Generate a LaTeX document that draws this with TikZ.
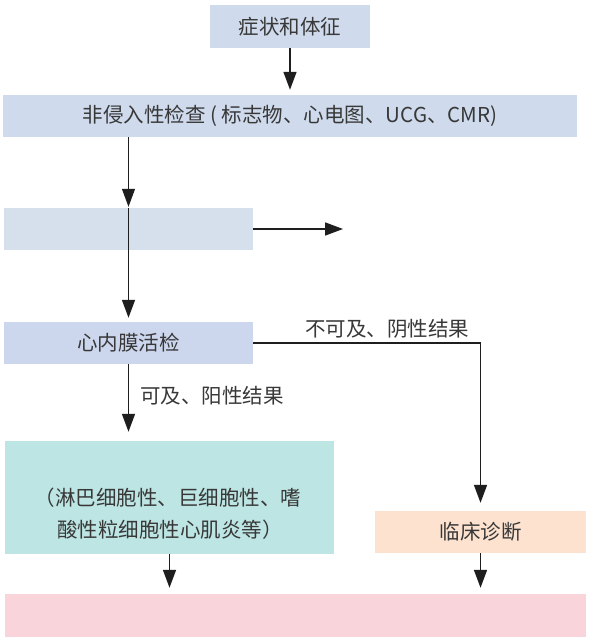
\documentclass[tikz,border=0pt]{standalone}
\usepackage{fontspec}
\setmainfont{Noto Sans CJK SC}
\usetikzlibrary{arrows.meta}
\definecolor{bluebox}{HTML}{CFDBEC}
\definecolor{bluefade}{HTML}{D6DFEC}
\definecolor{lavbox}{HTML}{CCD6EC}
\definecolor{tealbox}{HTML}{BDE5E3}
\definecolor{peachbox}{HTML}{FDE2D0}
\definecolor{pinkbox}{HTML}{F9D4DA}
\definecolor{txt}{HTML}{383838}
\definecolor{ln}{HTML}{1E1E1E}
\tikzset{
  box/.style={rectangle, draw=none, inner sep=0pt, anchor=center, text=txt, font=\fontsize{20.5}{24}\selectfont},
  lbl/.style={inner sep=0pt, text=txt, font=\fontsize{20.5}{24}\selectfont},
  arr/.style={draw=ln, line width=1.6pt, -{Triangle[length=18pt,width=13pt]}},
  thin/.style={draw=ln, line width=0.8pt}
}
\begin{document}
\begin{tikzpicture}[x=1pt,y=-1pt]
\useasboundingbox (0,0) rectangle (594,644);
\fill[white] (0,0) rectangle (594,644);
\node[box, fill=bluebox, minimum width=160pt, minimum height=43pt] (b1) at (290,26.5) {症状和体征};
\node[box, fill=bluebox, minimum width=574pt, minimum height=42pt] (b2) at (290,116) {非侵入性检查 ( 标志物、心电图、UCG、CMR)};
\node[box, fill=bluefade, minimum width=249pt, minimum height=42pt] (b3) at (128.5,229) {};
\node[box, fill=lavbox, minimum width=249pt, minimum height=42pt] (b4) at (128.5,343) {心内膜活检};
\node[box, fill=tealbox, minimum width=329pt, minimum height=113pt] (b5) at (169.5,497.5) {};
\node[lbl, anchor=center] (t5a) at (168,498) {（淋巴细胞性、巨细胞性、嗜};
\node[lbl, anchor=center] (t5b) at (170,530) {酸性粒细胞性心肌炎等）};
\node[box, fill=peachbox, minimum width=211pt, minimum height=42pt] (b6) at (480.5,532) {临床诊断};
\node[box, fill=pinkbox, minimum width=581.5pt, minimum height=43pt] (b7) at (295.25,615.5) {};
\coordinate (e3) at (343,229);
\coordinate (c46) at (b6.north |- b4.east);
% connectors
\draw[arr, shorten >=5pt] (b1.south) -- (b2.north);
\draw[arr, line width=1pt, shorten >=1pt] (b3.north |- b2.south) -- (b3.north);
\draw[thin] (b3.north) -- (b3.south);
\draw[arr] (b3.east) -- (e3);
\draw[arr, shorten >=4pt] (b3.south) -- (b4.north);
\draw[arr, shorten >=8pt] (b4.east) -- (c46) -- (b6.north);
\draw[arr, shorten >=9pt] (b4.south) -- (b4.south |- b5.north);
\draw[arr, shorten >=6pt] (b5.south) -- (b5.south |- b7.north);
\draw[arr, shorten >=6pt] (b6.south) -- (b7.north -| b6.south);
% labels
\node[lbl, anchor=center] (l1) at (387,329) {不可及、阴性结果};
\node[lbl, anchor=west] (l2) at (140,396) {可及、阳性结果};
\end{tikzpicture}
\end{document}
